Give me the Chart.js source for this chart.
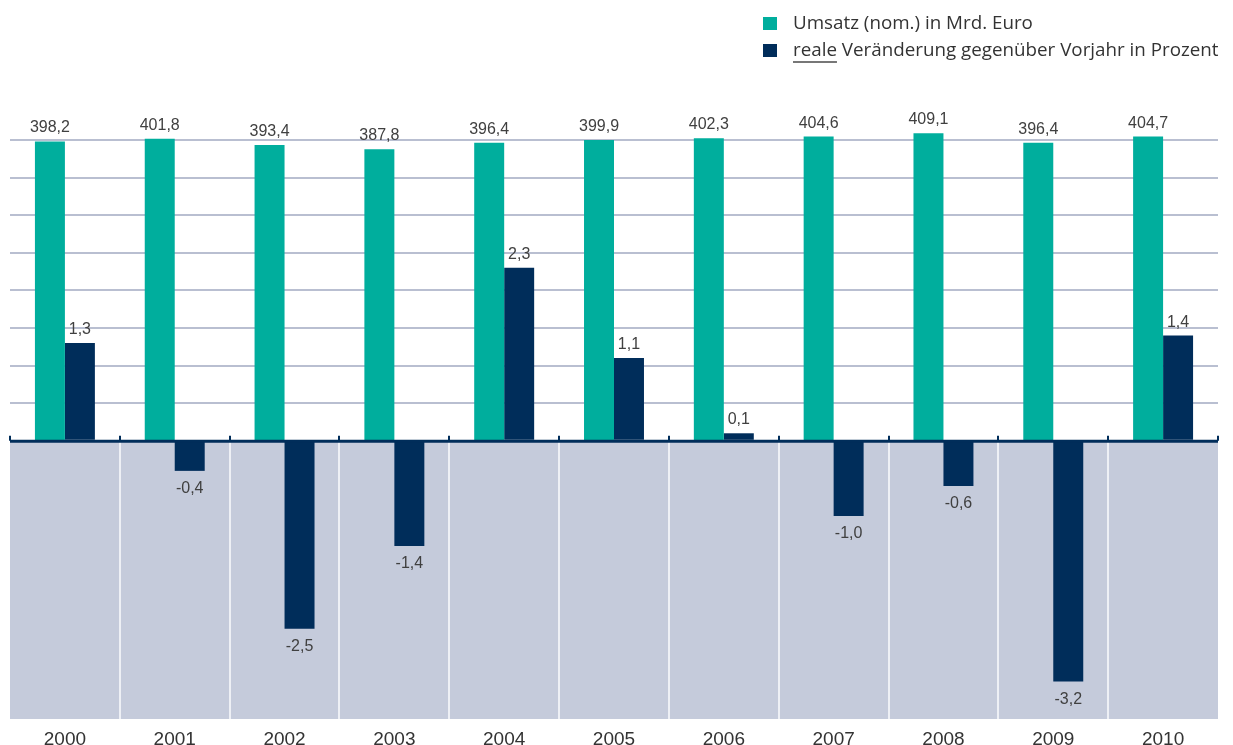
<!DOCTYPE html>
<html>
<head>
<meta charset="utf-8">
<script src="https://cdn.jsdelivr.net/npm/chart.js@4/dist/chart.umd.min.js"></script>
<style>
  html, body { margin: 0; padding: 0; background: #fff; }
  #wrap { position: relative; width: 1233px; height: 745px; }
  #legend { position: absolute; left: 763px; top: 9px; font-family: "Open Sans", "Liberation Sans", sans-serif; font-size: 18.8px; color: #333; font-weight: 400; }
  .item { position: relative; height: 27px; line-height: 27px; padding-left: 30px; white-space: nowrap; }
  .sw { position: absolute; left: 0; top: 8px; width: 14px; height: 13px; }
  .ul { text-decoration: underline; text-decoration-color: #777; text-underline-offset: 5px; text-decoration-thickness: 1.5px; }
</style>
</head>
<body>
<div id="wrap">
  <canvas id="c" width="1233" height="745"></canvas>
  <div id="legend">
    <div class="item"><span class="sw" style="background:#00ae9d"></span>Umsatz (nom.) in Mrd. Euro</div>
    <div class="item"><span class="sw" style="background:#002d5a"></span><span class="ul">reale</span> Veränderung gegenüber Vorjahr in Prozent</div>
  </div>
</div>
<script>
const years = ['2000','2001','2002','2003','2004','2005','2006','2007','2008','2009','2010'];
const umsatz = [398.2, 401.8, 393.4, 387.8, 396.4, 399.9, 402.3, 404.6, 409.1, 396.4, 404.7];
const veraenderung = [1.3, -0.4, -2.5, -1.4, 2.3, 1.1, 0.1, -1.0, -0.6, -3.2, 1.4];
const labelUmsatz = 'Umsatz (nom.) in Mrd. Euro';
const labelVeraenderung = 'reale Veränderung gegenüber Vorjahr in Prozent';

const TEAL = '#00ae9d', NAVY = '#002d5a', GRID = '#b9bfd1', NEG_BG = '#c5cbdb';
const Y_MIN = -3.7, Y_MAX = 4.2, GRID_TOP = 4.0;
const FONT = '"Liberation Sans", Arial, sans-serif';

function fmt(v) { return v.toFixed(1).replace('.', ','); }

const decor = {
  id: 'decor',
  beforeDatasetsDraw(chart) {
    const {ctx, chartArea: a, scales: {x, y}} = chart;
    const y0 = y.getPixelForValue(0);
    ctx.save();
    ctx.fillStyle = NEG_BG;
    ctx.fillRect(a.left, y0, a.right - a.left, a.bottom - y0);
    const half = (x.getPixelForValue(1) - x.getPixelForValue(0)) / 2;
    ctx.strokeStyle = '#eef0f5';
    ctx.lineWidth = 2;
    for (let i = 1; i < years.length; i++) {
      const xb = Math.round(x.getPixelForValue(i) - half);
      ctx.beginPath(); ctx.moveTo(xb, y0); ctx.lineTo(xb, a.bottom); ctx.stroke();
    }
    ctx.restore();
  },
  afterDatasetsDraw(chart) {
    const {ctx, chartArea: a, scales: {x, y}} = chart;
    const y0 = y.getPixelForValue(0);
    const half = (x.getPixelForValue(1) - x.getPixelForValue(0)) / 2;
    ctx.save();
    ctx.strokeStyle = NAVY;
    ctx.lineWidth = 3;
    ctx.beginPath(); ctx.moveTo(a.left, y0 + 0.5); ctx.lineTo(a.right, y0 + 0.5); ctx.stroke();
    ctx.lineWidth = 2;
    for (let i = 0; i <= years.length; i++) {
      const xb = Math.round(x.getPixelForValue(0) - half + i * 2 * half);
      ctx.beginPath(); ctx.moveTo(xb, y0 - 5); ctx.lineTo(xb, y0); ctx.stroke();
    }
    ctx.font = '16px ' + FONT;
    ctx.fillStyle = '#404040';
    ctx.textAlign = 'center';
    chart.data.datasets.forEach((ds, di) => {
      const meta = chart.getDatasetMeta(di);
      meta.data.forEach((bar, i) => {
        const v = ds.data[i];
        if (v >= 0) {
          ctx.textBaseline = 'alphabetic';
          ctx.fillText(fmt(v), bar.x, bar.y - 9);
        } else {
          ctx.textBaseline = 'top';
          ctx.fillText(fmt(v), bar.x, bar.y + 10);
        }
      });
    });
    ctx.restore();
  }
};

new Chart(document.getElementById('c'), {
  type: 'bar',
  data: {
    labels: years,
    datasets: [
      { label: labelUmsatz, data: umsatz, backgroundColor: TEAL, yAxisID: 'y2', barPercentage: 1, categoryPercentage: 0.546 },
      { label: labelVeraenderung, data: veraenderung, backgroundColor: NAVY, yAxisID: 'y', barPercentage: 1, categoryPercentage: 0.546 }
    ]
  },
  options: {
    responsive: false,
    animation: false,
    layout: { padding: { left: 10, right: 15, top: 125, bottom: 0 } },
    plugins: { legend: { display: false }, tooltip: { enabled: false } },
    scales: {
      x: {
        grid: { display: false, drawTicks: false },
        border: { display: false },
        ticks: { padding: 9, color: '#333', font: { family: FONT, size: 19 } },
        afterFit(s) { s.height = 26; }
      },
      y: {
        min: Y_MIN, max: Y_MAX,
        ticks: { display: false, stepSize: 0.5 },
        border: { display: false },
        grid: {
          drawTicks: false,
          lineWidth: 2,
          color: (c) => (c.tick && c.tick.value > 0.01 && c.tick.value <= GRID_TOP + 0.001) ? GRID : 'rgba(0,0,0,0)'
        },
        afterFit(s) { s.width = 0; }
      },
      y2: {
        display: false,
        min: Y_MIN * 100, max: Y_MAX * 100
      }
    }
  },
  plugins: [decor]
});
</script>
</body>
</html>
